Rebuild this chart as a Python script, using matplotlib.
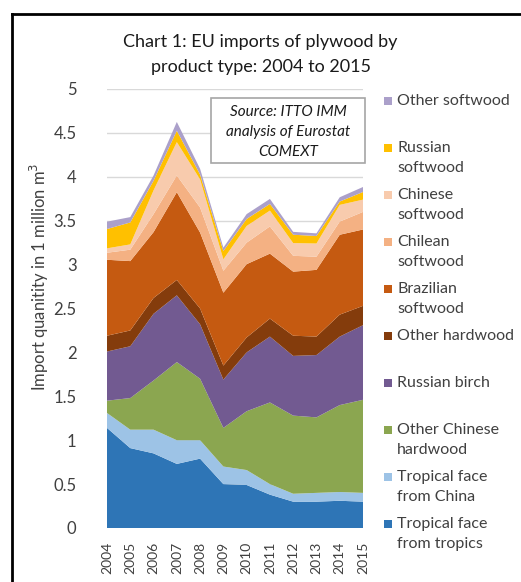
import matplotlib
matplotlib.use("Agg")
import matplotlib.pyplot as plt
from matplotlib.patches import Rectangle
from matplotlib.lines import Line2D
import numpy as np

years = list(range(2004, 2016))
labels = ["Tropical face\nfrom tropics", "Tropical face\nfrom China", "Other Chinese\nhardwood",
          "Russian birch", "Other hardwood", "Brazilian\nsoftwood", "Chilean\nsoftwood",
          "Chinese\nsoftwood", "Russian\nsoftwood", "Other softwood"]
colors = ["#2E75B6", "#9DC3E6", "#8BA650", "#725A91", "#843C0C", "#C55A11",
          "#F4B183", "#F8CBAD", "#FFC000", "#ABA0CA"]

tropical_tropics = [1.14, 0.91, 0.85, 0.73, 0.79, 0.50, 0.49, 0.38, 0.30, 0.30, 0.31, 0.30]
tropical_china   = [0.17, 0.21, 0.27, 0.27, 0.21, 0.20, 0.17, 0.12, 0.09, 0.10, 0.10, 0.10]
other_chinese_hw = [0.14, 0.36, 0.56, 0.89, 0.70, 0.44, 0.67, 0.93, 0.89, 0.86, 0.99, 1.06]
russian_birch    = [0.56, 0.59, 0.76, 0.76, 0.62, 0.55, 0.67, 0.75, 0.68, 0.71, 0.78, 0.85]
other_hardwood   = [0.18, 0.18, 0.18, 0.175, 0.18, 0.16, 0.17, 0.205, 0.23, 0.21, 0.25, 0.22]
brazilian_sw     = [0.865, 0.79, 0.75, 1.00, 0.865, 0.83, 0.835, 0.74, 0.73, 0.76, 0.91, 0.87]
chilean_sw       = [0.08, 0.13, 0.205, 0.19, 0.285, 0.25, 0.245, 0.31, 0.18, 0.15, 0.15, 0.20]
chinese_sw       = [0.05, 0.06, 0.27, 0.38, 0.32, 0.13, 0.19, 0.18, 0.145, 0.15, 0.19, 0.14]
russian_sw       = [0.22, 0.25, 0.11, 0.13, 0.056, 0.095, 0.08, 0.076, 0.095, 0.086, 0.038, 0.087]
other_sw         = [0.084, 0.061, 0.06, 0.10, 0.065, 0.038, 0.055, 0.057, 0.033, 0.03, 0.049, 0.057]

series = [tropical_tropics, tropical_china, other_chinese_hw, russian_birch, other_hardwood,
          brazilian_sw, chilean_sw, chinese_sw, russian_sw, other_sw]

plt.rcParams['font.family'] = ['Lato', 'DejaVu Sans']

W, H = 521, 582
fig = plt.figure(figsize=(W / 100, H / 100), dpi=100)
fig.patch.set_facecolor("white")

def fx(px):
    return px / W

def fy(py):
    return 1 - py / H

ax = fig.add_axes([fx(107), fy(528), fx(363) - fx(107), fy(89) - fy(528)])
ax.stackplot(years, *series, colors=colors, linewidth=0)
ax.set_xlim(2004, 2015)
ax.set_ylim(0, 5)
ax.set_yticks(np.arange(0, 5.01, 0.5))
ax.set_yticklabels(["0", "0.5", "1", "1.5", "2", "2.5", "3", "3.5", "4", "4.5", "5"],
                   fontsize=12, color="#404040")
ax.set_xticks(years)
ax.set_xticklabels([str(y) for y in years], rotation=90, fontsize=10, color="#404040")
ax.tick_params(axis="both", length=0)
ax.tick_params(axis="y", pad=22)
ax.tick_params(axis="x", pad=10)
ax.grid(axis="y", color="#D9D9D9", linewidth=1)
ax.set_axisbelow(True)
for s in ax.spines.values():
    s.set_visible(False)

# y label
fig.text(fx(39), fy(277), "Import quanitity in 1 million m$^3$", rotation=90,
         ha="center", va="center", fontsize=12, color="#404040")

# title
fig.text(fx(260), fy(42), "Chart 1: EU imports of plywood by", ha="center", va="center",
         fontsize=13, color="#1a1a1a")
fig.text(fx(261), fy(67), "product type: 2004 to 2015", ha="center", va="center",
         fontsize=13, color="#1a1a1a")

# source box
fig.add_artist(Rectangle((fx(211), fy(163)), fx(365) - fx(211), fy(98) - fy(163),
                         transform=fig.transFigure, facecolor="white", edgecolor="#A6A6A6",
                         linewidth=1.2, zorder=5))
for i, line in enumerate(["Source: ITTO IMM", "analysis of Eurostat", "COMEXT"]):
    fig.text(fx(288), fy(112 + 20 * i), line, ha="center", va="center", fontsize=11,
             style="italic", color="#1a1a1a", zorder=6)

# legend
for i, (lab, col) in enumerate(zip(labels[::-1], colors[::-1])):
    yc = 101 + 46.95 * i
    fig.add_artist(Rectangle((fx(384), fy(yc + 4)), fx(8), 8 / H,
                             transform=fig.transFigure, facecolor=col, edgecolor="none"))
    for j, ln in enumerate(lab.split("\n")):
        fig.text(fx(397), fy(yc + 20 * j), ln, ha="left", va="center", fontsize=11.5,
                 color="#404040")

# frame
fig.add_artist(Line2D([fx(12), fx(12)], [fy(14), 0], color="black", linewidth=2,
                      transform=fig.transFigure))
fig.add_artist(Line2D([fx(12), 1], [fy(14), fy(14)], color="black", linewidth=2,
                      transform=fig.transFigure))

fig.savefig("out.png", dpi=100)
